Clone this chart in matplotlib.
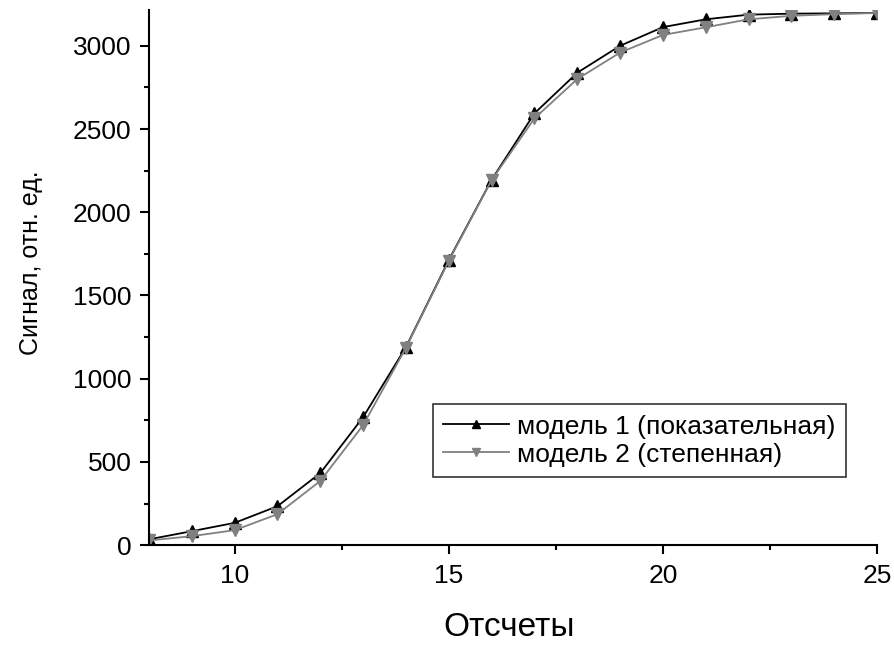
import numpy as np
import matplotlib.pyplot as plt
from matplotlib import font_manager
from matplotlib.ticker import MultipleLocator

# Отсчеты
x = [8, 9, 10, 11, 12, 13, 14, 15, 16, 17, 18, 19, 20, 21, 22, 23, 24, 25]
# модель 1 (показательная)
model1 = [35, 84, 134, 234, 433, 769, 1190, 1713, 2195, 2594, 2838, 3000, 3112, 3159, 3187, 3193, 3195, 3197]
# модель 2 (степенная)
model2 = [28, 54, 90, 186, 386, 721, 1186, 1708, 2193, 2564, 2800, 2959, 3065, 3111, 3159, 3180, 3190, 3197]

plt.rcParams['font.family'] = ['Liberation Sans', 'DejaVu Sans']

names = {f.name for f in font_manager.fontManager.ttflist}
if 'Liberation Sans Narrow' in names:
    ylab_font, ylab_size = 'Liberation Sans Narrow', 22
else:
    ylab_font, ylab_size = 'Liberation Sans', 18

fig = plt.figure(figsize=(8.94, 6.49), dpi=100)
ax = fig.add_axes([0.1667, 0.160, 0.8143, 0.8246])

ax.plot(x, model1, color='black', lw=1.3, marker='^', ms=8,
        label='модель 1 (показательная)')
ax.plot(x, model2, color='#808080', lw=1.3, marker='v', ms=8,
        label='модель 2 (степенная)')

ax.set_xlim(8, 25)
ax.set_ylim(0, 3215)
ax.xaxis.set_major_locator(MultipleLocator(5))
ax.xaxis.set_minor_locator(MultipleLocator(2.5))
ax.yaxis.set_major_locator(MultipleLocator(500))
ax.yaxis.set_minor_locator(MultipleLocator(250))

ax.spines['top'].set_visible(False)
ax.spines['right'].set_visible(False)
for s in ['left', 'bottom']:
    ax.spines[s].set_linewidth(1.5)

ax.tick_params(which='major', direction='out', length=6.5, width=1.5, labelsize=19)
ax.tick_params(axis='y', which='major', pad=6)
ax.tick_params(axis='x', which='major', pad=7)
ax.tick_params(which='minor', direction='out', length=3.5, width=1.5)

ax.set_xlabel('Отсчеты', fontsize=24)
ax.xaxis.set_label_coords(0.494, -0.125)
ax.set_ylabel('Сигнал, отн. ед.', fontsize=ylab_size, family=[ylab_font, 'DejaVu Sans'])
ax.yaxis.set_label_coords(-0.146, 0.527)

leg = ax.legend(loc='lower left', bbox_to_anchor=(0.390, 0.127), fontsize=19,
                frameon=True, fancybox=False, edgecolor='black',
                handlelength=2.5, handletextpad=0.3, borderpad=0.4,
                labelspacing=0.15, markerscale=0.7, borderaxespad=0)
leg.get_frame().set_linewidth(1.2)

fig.savefig('out.png', dpi=100)
